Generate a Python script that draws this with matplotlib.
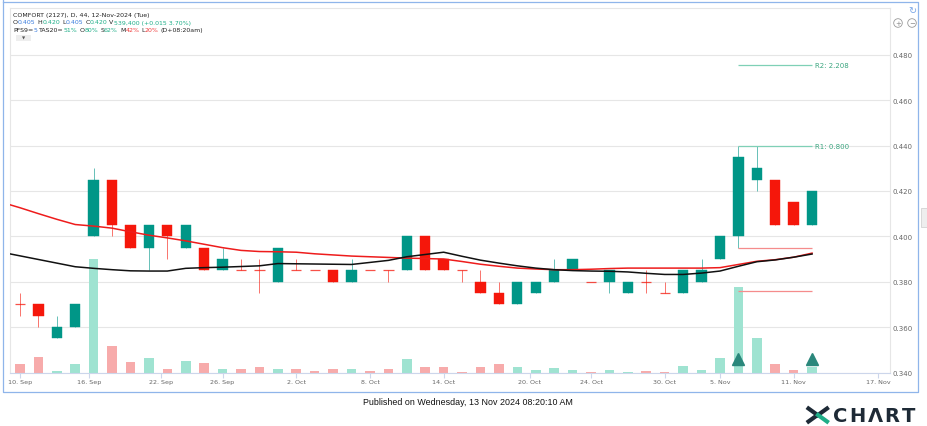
import numpy as np
import pandas as pd
import matplotlib
matplotlib.use('Agg')
import matplotlib.pyplot as plt
import matplotlib.transforms as mtransforms
from matplotlib import font_manager
from matplotlib.patches import Rectangle, Circle
from matplotlib.lines import Line2D

# ---- data ----
dates = ['2024-09-10', '2024-09-11', '2024-09-12', '2024-09-13', '2024-09-17', '2024-09-18',
         '2024-09-19', '2024-09-20', '2024-09-23', '2024-09-24', '2024-09-25', '2024-09-26',
         '2024-09-27', '2024-09-30', '2024-10-01', '2024-10-02', '2024-10-03', '2024-10-04',
         '2024-10-07', '2024-10-08', '2024-10-09', '2024-10-10', '2024-10-11', '2024-10-14',
         '2024-10-15', '2024-10-16', '2024-10-17', '2024-10-18', '2024-10-21', '2024-10-22',
         '2024-10-23', '2024-10-24', '2024-10-25', '2024-10-28', '2024-10-29', '2024-10-30',
         '2024-11-01', '2024-11-04', '2024-11-05', '2024-11-06', '2024-11-07', '2024-11-08',
         '2024-11-11', '2024-11-12']
opens = [0.370, 0.370, 0.355, 0.360, 0.400, 0.425, 0.405, 0.395, 0.405, 0.395, 0.395, 0.385,
         0.385, 0.385, 0.380, 0.385, 0.385, 0.385, 0.380, 0.385, 0.385, 0.385, 0.400, 0.390,
         0.385, 0.380, 0.375, 0.370, 0.375, 0.380, 0.385, 0.380, 0.380, 0.375, 0.380, 0.375,
         0.375, 0.380, 0.390, 0.400, 0.425, 0.425, 0.415, 0.405]
highs = [0.375, 0.370, 0.365, 0.370, 0.430, 0.425, 0.405, 0.405, 0.405, 0.405, 0.395, 0.395,
         0.390, 0.390, 0.395, 0.390, 0.385, 0.385, 0.390, 0.385, 0.385, 0.400, 0.400, 0.390,
         0.385, 0.385, 0.380, 0.380, 0.380, 0.390, 0.390, 0.380, 0.385, 0.380, 0.385, 0.380,
         0.385, 0.390, 0.400, 0.440, 0.440, 0.425, 0.415, 0.420]
lows = [0.365, 0.360, 0.355, 0.360, 0.400, 0.400, 0.395, 0.385, 0.390, 0.395, 0.385, 0.385,
        0.385, 0.375, 0.380, 0.385, 0.385, 0.380, 0.380, 0.385, 0.380, 0.385, 0.385, 0.385,
        0.380, 0.375, 0.370, 0.370, 0.375, 0.380, 0.385, 0.380, 0.375, 0.375, 0.375, 0.375,
        0.375, 0.380, 0.390, 0.395, 0.420, 0.405, 0.405, 0.405]
closes = [0.370, 0.365, 0.360, 0.370, 0.425, 0.405, 0.395, 0.405, 0.400, 0.405, 0.385, 0.390,
          0.385, 0.385, 0.395, 0.385, 0.385, 0.380, 0.385, 0.385, 0.385, 0.400, 0.385, 0.385,
          0.385, 0.375, 0.370, 0.380, 0.380, 0.385, 0.390, 0.380, 0.385, 0.380, 0.380, 0.375,
          0.385, 0.385, 0.400, 0.435, 0.430, 0.405, 0.405, 0.420]
volumes = [750000, 1350000, 150000, 750000, 10200000, 2400000, 900000, 1320000, 300000,
           1050000, 840000, 270000, 270000, 450000, 270000, 270000, 150000, 330000, 300000,
           120000, 300000, 1230000, 510000, 510000, 40000, 510000, 750000, 480000, 240000,
           420000, 180000, 40000, 180000, 60000, 150000, 30000, 600000, 210000, 1260000,
           7650000, 3120000, 750000, 210000, 539400]
# moving averages, first value belongs to the session before 10 Sep
ma_red = [0.4150, 0.4126, 0.4100, 0.4075, 0.4052, 0.4045, 0.4036, 0.4020, 0.4005, 0.3993,
          0.3980, 0.3965, 0.3950, 0.3938, 0.3933, 0.3932, 0.3930, 0.3923, 0.3918, 0.3913,
          0.3910, 0.3907, 0.3904, 0.3902, 0.3900, 0.3889, 0.3877, 0.3868, 0.3860, 0.3856,
          0.3853, 0.3853, 0.3855, 0.3858, 0.3860, 0.3860, 0.3860, 0.3860, 0.3860, 0.3862,
          0.3876, 0.3890, 0.3897, 0.3908, 0.3926]
ma_black = [0.3930, 0.3914, 0.3898, 0.3882, 0.3866, 0.3859, 0.3853, 0.3848, 0.3847, 0.3847,
            0.3859, 0.3862, 0.3864, 0.3867, 0.3870, 0.3880, 0.3879, 0.3878, 0.3877, 0.3876,
            0.3885, 0.3894, 0.3910, 0.3920, 0.3930, 0.3912, 0.3895, 0.3882, 0.3870, 0.3860,
            0.3853, 0.3849, 0.3847, 0.3846, 0.3843, 0.3837, 0.3832, 0.3832, 0.3838, 0.3847,
            0.3868, 0.3888, 0.3896, 0.3908, 0.3922]
res_levels = [0.4757, 0.440]
res_labels = ['R2: 2.208', 'R1: 0.800']
sup_levels = [0.395, 0.3757]
level_from, level_to = '2024-11-06', '2024-11-12'
signal_dates = ['2024-11-06', '2024-11-12']
signal_price = 0.346
tick_dates = ['2024-09-10', '2024-09-16', '2024-09-22', '2024-09-26', '2024-10-02',
              '2024-10-08', '2024-10-14', '2024-10-20', '2024-10-24', '2024-10-30',
              '2024-11-05', '2024-11-11', '2024-11-17']
tick_labels = ['10. Sep', '16. Sep', '22. Sep', '26. Sep', '2. Oct', '8. Oct', '14. Oct',
               '20. Oct', '24. Oct', '30. Oct', '5. Nov', '11. Nov', '17. Nov']
y_ticks = [0.340, 0.360, 0.380, 0.400, 0.420, 0.440, 0.460, 0.480]

UP, DOWN = '#009687', '#f5170b'
UP_VOL, DOWN_VOL = '#9fe3d1', '#f7abab'
GREEN, BLUE, RED, K = '#1fae88', '#3b7ddd', '#f03c3c', '#222222'

# ordinal x axis: one slot per session, other dates interpolated between sessions
d = pd.to_datetime(dates)
day_num = np.array((d - d[0]).days, dtype=float)
idx = np.arange(len(dates))


def pos_of(ds):
    t = np.array((pd.to_datetime(ds) - d[0]).days, dtype=float)
    p = np.interp(t, day_num, idx)
    over = t > day_num[-1]
    p[over] = idx[-1] + (t[over] - day_num[-1]) * 5 / 7
    return p


W, H = 928, 427
fig = plt.figure(figsize=(W / 100, H / 100), dpi=100)
ax = fig.add_axes([10 / W, 1 - 373.5 / H, 880 / W, 364.5 / H])
ax.set_xlim(-0.54, 47.23)
ax.set_ylim(0.340, 0.5006)

for s in ax.spines.values():
    s.set_color('#e6e6e6')
    s.set_linewidth(0.8)
ax.spines['bottom'].set_color('#ccd6eb')

ax.set_yticks(y_ticks)
ax.set_yticklabels([f'{v:.3f}' for v in y_ticks])
ax.yaxis.tick_right()
ax.tick_params(axis='y', length=0, pad=2, labelsize=5, labelcolor='#666666')
ax.grid(axis='y', color='#e6e6e6', lw=0.8)
ax.set_axisbelow(True)

ax.set_xticks(pos_of(tick_dates))
ax.set_xticklabels(tick_labels)
ax.tick_params(axis='x', length=3.5, width=0.8, color='#ccd6eb', pad=1.5,
               labelsize=4.6, labelcolor='#666666')

# volume bars on their own scale at the bottom of the price pane
vol_top = 32800000
vtrans = mtransforms.blended_transform_factory(ax.transData, ax.transAxes)
vol_cols = [UP_VOL if c > o else DOWN_VOL for o, c in zip(opens, closes)]
ax.bar(idx, np.array(volumes) / vol_top, width=0.52, color=vol_cols, transform=vtrans, zorder=1)

# candles
bw = 0.56
for i in idx:
    o, h, l, c = opens[i], highs[i], lows[i], closes[i]
    col = UP if c > o else DOWN
    if h > l:
        ax.vlines(i, l, h, color=col, lw=0.7, alpha=0.6, zorder=2)
    if o == c:
        ax.hlines(o, i - bw / 2, i + bw / 2, color=col, lw=0.9, alpha=0.75, zorder=3)
    else:
        ax.add_patch(Rectangle((i - bw / 2, min(o, c)), bw, abs(c - o), facecolor=col,
                               edgecolor=col, lw=0.3, zorder=3))

ma_x = np.arange(-1, len(dates))
ax.plot(ma_x, ma_red, color='#ee1c1c', lw=1.1, zorder=4)
ax.plot(ma_x, ma_black, color='#111111', lw=1.1, zorder=4)

# resistance / support levels
x0, x1 = pos_of([level_from, level_to])
for v, lab in zip(res_levels, res_labels):
    ax.hlines(v, x0, x1, color='#7fd0b6', lw=0.9, zorder=4)
    ax.text(x1 + 0.15, v, lab, color='#3aa57f', fontsize=5, va='center', ha='left')
for v in sup_levels:
    ax.hlines(v, x0, x1, color='#f58c8c', lw=0.9, zorder=4)

ax.plot(pos_of(signal_dates), [signal_price] * len(signal_dates), '^', color='#2a877b',
        markersize=8, zorder=5)

# overlay in pixel coordinates for header, frame and branding
ov = fig.add_axes([0, 0, 1, 1], zorder=10)
ov.set_xlim(0, W)
ov.set_ylim(H, 0)
ov.set_axis_off()
ov.patch.set_visible(False)

renderer = fig.canvas.get_renderer()


def text_width(s, size, **kw):
    t = ov.text(0, 0, s, fontsize=size, **kw)
    w = t.get_window_extent(renderer).width
    t.remove()
    return w


def advance(s, size):
    # pen advance of s, trailing spaces included
    return text_width(s + '|', size) - text_width('|', size)


def segments(x, y, parts, size=4.5):
    prefix = ''
    for s, col in parts:
        body = s.lstrip(' ')
        prefix += s[:len(s) - len(body)]
        off = advance(prefix, size) if prefix else 0
        ov.text(x + off, y, body, color=col, fontsize=size, va='baseline', ha='left')
        prefix += body


chg = closes[-1] - closes[-2]
segments(13, 17, [('COMFORT (2127), D, 44, 12-Nov-2024 (Tue)', K)])
segments(13, 24.5, [('O', K), (f'{opens[-1]:.3f}', BLUE), (' H', K), (f'{highs[-1]:.3f}', GREEN),
                    (' L', K), (f'{lows[-1]:.3f}', BLUE), (' C', K), (f'{closes[-1]:.3f}', GREEN),
                    (' V', K), (f'{volumes[-1]:,} (+{chg:.3f} {chg / closes[-2] * 100:.2f}%)', GREEN)])
segments(13, 32, [('PFS9=', K), ('5', BLUE), (' TAS20=', K), ('51%', GREEN), (' O', K),
                  ('80%', GREEN), (' S', K), ('62%', GREEN), (' M', K), ('42%', RED),
                  (' L', K), ('20%', RED), (' (D+08:20am)', K)])

ov.add_patch(Rectangle((16, 35.5), 15, 6, facecolor='#eeeeee', edgecolor='none'))
ov.text(23.5, 38.5, '▼', fontsize=3, color='#555555', ha='center', va='center')

# outer frame
fc = '#8fb5ea'
ov.plot([3, 3, 918, 918, 3], [0, 393, 393, 3, 3], color=fc, lw=0.9)

# zoom / refresh icons
ov.text(912, 11, '↻', fontsize=7, color='#7aa6e6', ha='center', va='center')
for cx, sgn in [(898, '+'), (912, '−')]:
    ov.add_patch(Circle((cx, 24), 4.3, facecolor='white', edgecolor='#999999', lw=0.6))
    ov.text(cx, 24.3, sgn, fontsize=5, color='#888888', ha='center', va='center')
ov.add_patch(Rectangle((921, 209), 7, 19, facecolor='#eeeeee', edgecolor='#cccccc', lw=0.5))

# footer: use a narrow face if one is installed, then fit the measured width
names = {f.name for f in font_manager.fontManager.ttflist}
pub_family = next((n for n in ['Liberation Sans Narrow', 'DejaVu Sans Condensed',
                               'Liberation Sans'] if n in names), 'DejaVu Sans')
pub = 'Published on Wednesday, 13 Nov 2024 08:20:10 AM'
pub_size = 7.5 * 208 / text_width(pub, 7.5, family=pub_family)
ov.text(467.5, 403, pub, fontsize=pub_size, family=pub_family, color='#111111',
        ha='center', va='center')

# XCHART logo
dark = '#1e2a36'
ov.add_line(Line2D([808.5, 817.5, 808.5], [409.5, 416, 422.5], color=dark, lw=3))
ov.add_line(Line2D([827, 818], [409.5, 416], color=dark, lw=3))
ov.add_line(Line2D([818, 827], [416, 422.5], color='#1fae88', lw=3))
for ch, cx in zip('CHΛRT', [840, 857.5, 875, 892, 909]):
    ov.text(cx, 416.5, ch, fontsize=14, fontweight='bold', color=dark, ha='center', va='center')

fig.savefig('out.png', dpi=100)
